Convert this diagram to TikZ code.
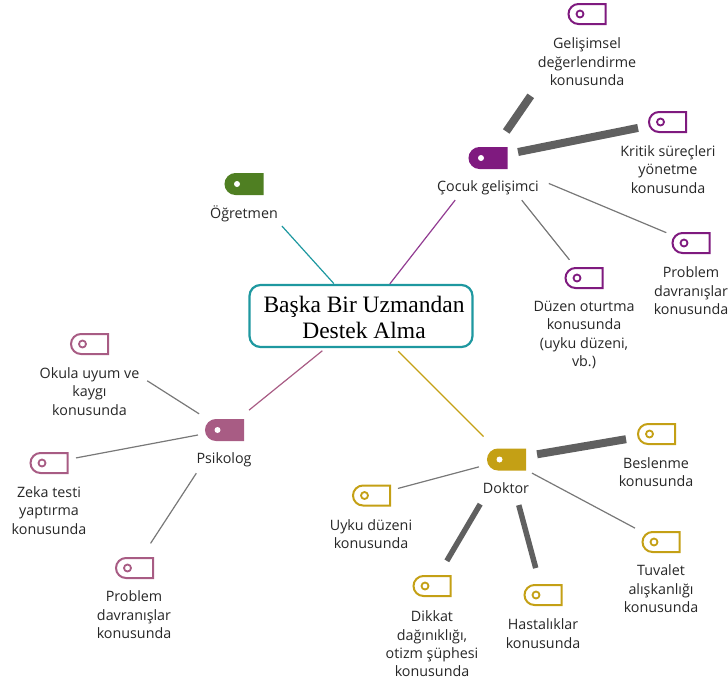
\documentclass[tikz,border=0pt]{standalone}
\usepackage{fontspec}
\setmainfont{Open Sans}
\newfontfamily\serifbox{Liberation Serif}
\usetikzlibrary{shapes.misc}
\definecolor{cteal}{HTML}{1E98A0}
\definecolor{cpurple}{HTML}{7F1A7F}
\definecolor{cgreen}{HTML}{4F7F22}
\definecolor{cmauve}{HTML}{A85C84}
\definecolor{cgold}{HTML}{C4A015}
\definecolor{cgrey}{HTML}{606060}
\definecolor{ctext}{HTML}{262626}
\tikzset{
  tagshape/.style={rounded rectangle,rounded rectangle right arc=none,minimum width=37pt,minimum height=20pt,inner sep=0pt,outer sep=0pt,line width=2pt},
  tagfull/.style={tagshape,draw=#1,fill=#1},
  taghollow/.style={tagshape,draw=#1,fill=white},
  dotfull/.style={circle,fill=white,minimum size=6pt,inner sep=0pt},
  dothollow/.style={circle,draw=#1,fill=white,minimum size=7pt,inner sep=0pt,line width=1.8pt},
  label/.style={align=center,text=ctext,inner sep=0pt,font=\fontsize{14.3}{18.4}\selectfont},
  mainbox/.style={draw=cteal,line width=2.2pt,rounded corners=11pt,fill=white,minimum width=223pt,minimum height=62pt,inner sep=0pt},
  maintext/.style={inner sep=0pt,align=center,text=black,font=\serifbox\fontsize{23.5}{26}\selectfont},
  thinlink/.style={line width=1.2pt,draw=cgrey!85},
  thicklink/.style={line width=8pt,draw=cgrey},
  medlink/.style={line width=5.5pt,draw=cgrey},
  colourlink/.style={line width=1.2pt,draw=#1}
}
\newcommand{\fulltag}[4]{\node[tagfull=#4] (#1) at (#2,#3) {};\node[dotfull] (#1dot) at (#2-7,#3) {};}
\newcommand{\hollowtag}[4]{\node[taghollow=#4] (#1) at (#2,#3) {};\node[dothollow=#4] (#1dot) at (#2-7,#3) {};}
\begin{document}
\begin{tikzpicture}[x=1pt,y=-1pt]
\useasboundingbox (0,0) rectangle (728,681);
\node[mainbox] (main) at (361,316) {};
\node[maintext] (maintitle) at (364,317) {Başka Bir Uzmandan\\Destek Alma};
% tags
\fulltag{ogretmen}{244}{184}{cgreen}
\fulltag{cocuk}{488}{158}{cpurple}
\fulltag{psikolog}{224.5}{430}{cmauve}
\fulltag{doktor}{506.5}{459.5}{cgold}
\hollowtag{gelisim}{587}{14}{cpurple}
\hollowtag{kritik}{667.5}{122}{cpurple}
\hollowtag{duzen}{584}{278}{cpurple}
\hollowtag{probc}{691}{243}{cpurple}
\hollowtag{okula}{89.5}{344}{cmauve}
\hollowtag{zeka}{49}{463}{cmauve}
\hollowtag{probp}{134.5}{568}{cmauve}
\hollowtag{beslenme}{656.5}{434}{cgold}
\hollowtag{tuvalet}{661}{542}{cgold}
\hollowtag{hastalik}{543}{595}{cgold}
\hollowtag{dikkat}{432}{586}{cgold}
\hollowtag{uyku}{371.5}{495.5}{cgold}
% labels
\node[label] (lOgretmen) at (244,214) {Öğretmen};
\node[label] (lCocuk) at (488,188) {Çocuk gelişimci};
\node[label] (lPsikolog) at (224,459.5) {Psikolog};
\node[label] (lDoktor) at (506,488.5) {Doktor};
\node[label] (lGelisim) at (587,62) {Gelişimsel\\değerlendirme\\konusunda};
\node[label] (lKritik) at (668,169.5) {Kritik süreçleri\\yönetme\\konusunda};
\node[label] (lDuzen) at (584,335) {Düzen oturtma\\konusunda\\(uyku düzeni,\\vb.)};
\node[label] (lProbc) at (691,291) {Problem\\davranışlar\\konusunda};
\node[label] (lOkula) at (89.5,391.5) {Okula uyum ve\\kaygı\\konusunda};
\node[label] (lZeka) at (49,510.5) {Zeka testi\\yaptırma\\konusunda};
\node[label] (lProbp) at (134,615) {Problem\\davranışlar\\konusunda};
\node[label] (lBeslenme) at (656,472) {Beslenme\\konusunda};
\node[label] (lTuvalet) at (661,589) {Tuvalet\\alışkanlığı\\konusunda};
\node[label] (lHastalik) at (543,633.5) {Hastalıklar\\konusunda};
\node[label] (lDikkat) at (432,644) {Dikkat\\dağınıklığı,\\otizm şüphesi\\konusunda};
\node[label] (lUyku) at (371,534) {Uyku düzeni\\konusunda};
% main branches
\draw[colourlink=cteal,shorten <=56.6pt,shorten >=45pt] (ogretmen.center) -- (maintitle.center);
\draw[colourlink=cpurple!85,shorten <=53.4pt,shorten >=42pt] (cocuk.center) -- (maintitle.center);
\draw[colourlink=cmauve,shorten <=31.6pt,shorten >=53.6pt] (psikolog.center) -- (maintitle.center);
\draw[colourlink=cgold,shorten <=32.5pt,shorten >=48.4pt] (doktor.center) -- (maintitle.center);
% child links
\draw[thicklink,shorten <=32.2pt,shorten >=99.3pt] (cocuk.center) -- (gelisim.center);
\draw[thicklink,shorten <=30.6pt,shorten >=30.1pt] (cocuk.center) -- (kritik.center);
\draw[thinlink,shorten <=54pt,shorten >=23.3pt] (cocuk.center) -- (duzen.center);
\draw[thinlink,shorten <=65.9pt,shorten >=26.8pt] (cocuk.center) -- (probc.center);
\draw[thinlink,shorten <=30.1pt,shorten >=68.4pt] (psikolog.center) -- (okula.center);
\draw[thinlink,shorten <=27pt,shorten >=27.5pt] (psikolog.center) -- (zeka.center);
\draw[thinlink,shorten <=51.6pt,shorten >=29.4pt] (psikolog.center) -- (probp.center);
\draw[thicklink,shorten <=31pt,shorten >=30.9pt] (doktor.center) -- (beslenme.center);
\draw[thinlink,shorten <=28.9pt,shorten >=29.5pt] (doktor.center) -- (tuvalet.center);
\draw[medlink,shorten <=47.2pt,shorten >=27.9pt] (doktor.center) -- (hastalik.center);
\draw[medlink,shorten <=51.8pt,shorten >=29.2pt] (doktor.center) -- (dikkat.center);
\draw[thinlink,shorten <=28.5pt,shorten >=27.4pt] (doktor.center) -- (uyku.center);
\end{tikzpicture}
\end{document}
